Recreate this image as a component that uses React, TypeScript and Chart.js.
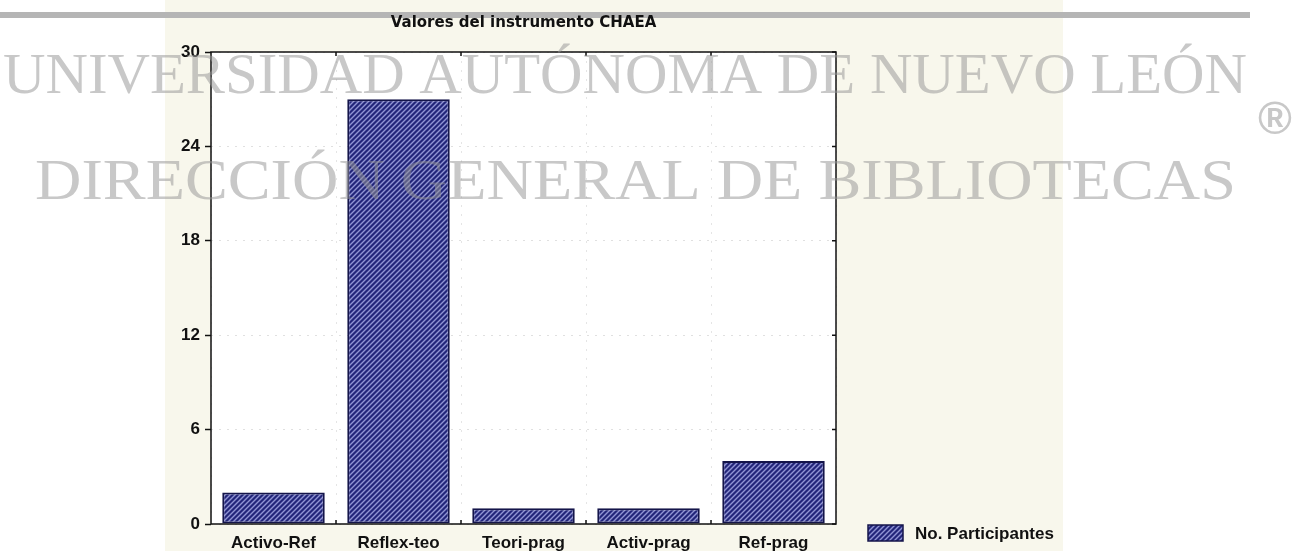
import React, { useEffect, useRef } from 'react';
import { Chart, registerables } from 'chart.js';

Chart.register(...registerables);

const chartTitle = 'Valores del instrumento CHAEA';
const categories = ['Activo-Ref', 'Reflex-teo', 'Teori-prag', 'Activ-prag', 'Ref-prag'];
const participantes = [2, 27, 1, 1, 4];
const seriesLabel = 'No. Participantes';
const yTicks = [0, 6, 12, 18, 24, 30];
const watermarkLine1 = 'UNIVERSIDAD AUTÓNOMA DE NUEVO LEÓN';
const watermarkLine2 = 'DIRECCIÓN GENERAL DE BIBLIOTECAS';
const watermarkMark = '®';

const W = 1292;
const H = 560;
const SANS = "'Liberation Sans', Arial, sans-serif";

function makePattern(): CanvasPattern | string {
  const s = 5;
  const c = document.createElement('canvas');
  c.width = s;
  c.height = s;
  const g = c.getContext('2d');
  if (!g) return '#34378a';
  g.fillStyle = '#23267a';
  g.fillRect(0, 0, s, s);
  g.strokeStyle = '#9094d4';
  g.lineWidth = 1.4;
  g.beginPath();
  g.moveTo(0, s); g.lineTo(s, 0);
  g.moveTo(-1, 1); g.lineTo(1, -1);
  g.moveTo(s - 1, s + 1); g.lineTo(s + 1, s - 1);
  g.stroke();
  const p = g.createPattern(c, 'repeat');
  return p || '#34378a';
}

export default function App() {
  const ref = useRef<HTMLCanvasElement>(null);

  useEffect(() => {
    const canvas = ref.current;
    if (!canvas) return;
    const pattern = makePattern();

    const bgPlugin = {
      id: 'bgPlugin',
      beforeDraw(chart: any) {
        const { ctx, chartArea } = chart;
        ctx.save();
        ctx.fillStyle = '#ffffff';
        ctx.fillRect(0, 0, W, H);
        ctx.fillStyle = '#f8f7ec';
        ctx.fillRect(165, 0, 898, H);
        ctx.fillStyle = '#b5b5b5';
        ctx.fillRect(0, 12, 1250, 6);
        ctx.fillStyle = '#ffffff';
        ctx.fillRect(chartArea.left, chartArea.top, chartArea.right - chartArea.left, chartArea.bottom - chartArea.top);
        ctx.restore();
      },
    };

    const overlayPlugin = {
      id: 'overlayPlugin',
      afterDraw(chart: any) {
        const { ctx, chartArea } = chart;
        const xs = chart.scales.x;
        const ys = chart.scales.y;
        ctx.save();
        // frame
        ctx.strokeStyle = '#111111';
        ctx.lineWidth = 1.5;
        ctx.strokeRect(chartArea.left, chartArea.top, chartArea.right - chartArea.left, chartArea.bottom - chartArea.top);
        // inward ticks on frame
        ctx.beginPath();
        for (let i = 0; i < categories.length - 1; i++) {
          const bx = (xs.getPixelForValue(i) + xs.getPixelForValue(i + 1)) / 2;
          ctx.moveTo(bx, chartArea.top); ctx.lineTo(bx, chartArea.top + 4);
          ctx.moveTo(bx, chartArea.bottom); ctx.lineTo(bx, chartArea.bottom - 4);
        }
        yTicks.forEach((v) => {
          const py = ys.getPixelForValue(v);
          ctx.moveTo(chartArea.right, py); ctx.lineTo(chartArea.right - 4, py);
        });
        ctx.stroke();

        // legend
        const sx = 868, sy = 525, sw = 35, sh = 16;
        ctx.fillStyle = pattern as any;
        ctx.fillRect(sx, sy, sw, sh);
        ctx.strokeStyle = '#14154a';
        ctx.lineWidth = 1.5;
        ctx.strokeRect(sx, sy, sw, sh);
        ctx.fillStyle = '#111111';
        ctx.font = `bold 17px ${SANS}`;
        ctx.textAlign = 'left';
        ctx.textBaseline = 'middle';
        ctx.fillText(seriesLabel, 915, sy + sh / 2 + 1);

        // watermark
        ctx.fillStyle = 'rgba(150,150,150,0.52)';
        ctx.font = "58px 'Liberation Serif', 'Times New Roman', serif";
        ctx.textBaseline = 'alphabetic';
        const fit = (text: string, x0: number, x1: number, baseline: number) => {
          const w = ctx.measureText(text).width;
          const k = (x1 - x0) / w;
          ctx.save();
          ctx.translate(x0, baseline);
          ctx.scale(k, 1);
          ctx.fillText(text, 0, 0);
          ctx.restore();
        };
        fit(watermarkLine1, 3, 1247, 93);
        fit(watermarkLine2, 35, 1236, 199);
        ctx.font = `bold 46px ${SANS}`;
        ctx.textAlign = 'center';
        ctx.textBaseline = 'middle';
        ctx.fillText(watermarkMark, 1275, 121);
        ctx.restore();
      },
    };

    const tickFont = { family: SANS, weight: 'bold' as const, size: 17 };

    const chart = new Chart(canvas, {
      type: 'bar',
      data: {
        labels: categories,
        datasets: [
          {
            label: seriesLabel,
            data: participantes,
            backgroundColor: pattern as any,
            borderColor: '#14154a',
            borderWidth: 2,
            borderSkipped: false,
            categoryPercentage: 1,
            barPercentage: 0.82,
          },
        ],
      },
      options: {
        responsive: false,
        animation: false,
        devicePixelRatio: 1,
        layout: { padding: { left: 0, right: 456, top: 0, bottom: 0 } },
        plugins: {
          legend: { display: false },
          tooltip: { enabled: false },
          title: {
            display: true,
            text: chartTitle,
            fullSize: false,
            color: '#111111',
            font: { family: "'DejaVu Sans', sans-serif", weight: 'bold', size: 15 },
            padding: { top: 14, bottom: 20 },
          },
        },
        scales: {
          x: {
            grid: { color: 'rgba(0,0,0,0.1)', drawTicks: false, offset: true },
            border: { display: false, dash: [2, 7] },
            ticks: { color: '#111111', font: tickFont, padding: 9, maxRotation: 0, autoSkip: false },
            afterFit: (s: any) => { s.height = H - 524; },
          },
          y: {
            min: 0,
            max: 30,
            afterBuildTicks: (s: any) => { s.ticks = yTicks.map((v) => ({ value: v })); },
            grid: { color: 'rgba(0,0,0,0.12)', tickColor: '#111111', tickLength: 6, tickWidth: 1.5, tickBorderDash: [] },
            border: { display: false, dash: [2, 6] },
            ticks: { color: '#111111', font: tickFont, padding: 5 },
            afterFit: (s: any) => { s.width = 211; },
          },
        },
      } as any,
      plugins: [bgPlugin, overlayPlugin],
    });

    return () => chart.destroy();
  }, []);

  return (
    <div style={{ position: 'fixed', left: 0, top: 0, width: W, height: H, overflow: 'hidden' }}>
      <canvas ref={ref} width={W} height={H} style={{ display: 'block', width: W, height: H }} />
    </div>
  );
}
